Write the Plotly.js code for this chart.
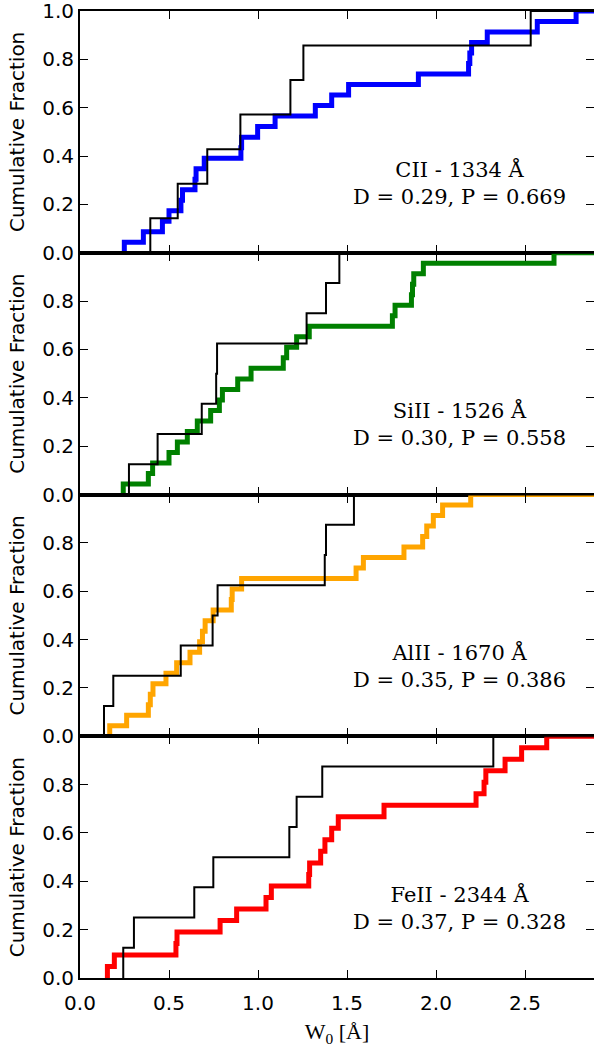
<!DOCTYPE html>
<html>
<head>
<meta charset="utf-8">
<script src="https://cdn.plot.ly/plotly-3.0.1.min.js"></script>
<style>html,body{margin:0;padding:0;background:#fff;}#chart{width:594px;height:1047px;}</style>
</head>
<body>
<div id="chart"></div>
<script>
// ---- data (equivalent widths W0 in Angstrom) ----
const ciiSample  = [0.249, 0.356, 0.463, 0.500, 0.567, 0.576, 0.646, 0.652, 0.698, 0.904, 0.908, 0.998, 1.096, 1.322, 1.414, 1.509, 1.901, 2.183, 2.190, 2.200, 2.288, 2.569, 2.787];
const ciiRef     = [0.395, 0.549, 0.715, 0.901, 1.182, 1.255, 2.532];
const siiiSample = [0.243, 0.384, 0.408, 0.500, 0.547, 0.603, 0.659, 0.734, 0.783, 0.800, 0.886, 0.961, 1.142, 1.161, 1.217, 1.288, 1.755, 1.770, 1.862, 1.868, 1.875, 1.929, 2.663];
const siiiRef    = [0.275, 0.436, 0.684, 0.765, 0.770, 1.273, 1.382, 1.457];
const aliiSample = [0.167, 0.262, 0.384, 0.395, 0.410, 0.483, 0.543, 0.618, 0.672, 0.688, 0.703, 0.748, 0.850, 0.855, 0.908, 1.551, 1.592, 1.820, 1.925, 1.948, 1.985, 2.037, 2.195];
const aliiRef    = [0.135, 0.187, 0.566, 0.745, 0.773, 1.375, 1.382, 1.539];
const feiiSample = [0.154, 0.193, 0.539, 0.545, 0.787, 0.880, 1.045, 1.075, 1.285, 1.290, 1.352, 1.376, 1.414, 1.451, 1.708, 2.225, 2.270, 2.280, 2.388, 2.481, 2.622];
const feiiRef    = [0.243, 0.303, 0.642, 0.749, 1.176, 1.217, 1.361, 2.322];

const ionLabels = ["CII - 1334 Å", "SiII - 1526 Å", "AlII - 1670 Å", "FeII - 2344 Å"];
const ksD = [0.29, 0.30, 0.35, 0.37];
const ksP = [0.669, 0.558, 0.386, 0.328];
const sampleColors = ["#0000ff", "#008000", "#ffa500", "#ff0000"];
const yTickVals = [0, 0.2, 0.4, 0.6, 0.8, 1.0];
const xTickVals = [0, 0.5, 1.0, 1.5, 2.0, 2.5];

const XMAX = 514 / 178;
const samples = [ciiSample, siiiSample, aliiSample, feiiSample];
const refs = [ciiRef, siiiRef, aliiRef, feiiRef];

function cdf(vals) {
  const s = vals.slice().sort((a, b) => a - b);
  const n = s.length;
  const x = [s[0]], y = [0];
  s.forEach((v, i) => { x.push(v); y.push((i + 1) / n); });
  x.push(XMAX + 0.5); y.push(1);
  return {x, y};
}

const traces = [];
const layout = {
  width: 594, height: 1047,
  margin: {l: 80, r: 0, t: 11, b: 69},
  paper_bgcolor: "#ffffff", plot_bgcolor: "#ffffff",
  showlegend: false,
  font: {family: "DejaVu Sans", size: 20, color: "#000"},
  annotations: []
};

for (let p = 0; p < 4; p++) {
  const sfx = p === 0 ? "" : String(p + 1);
  const xa = "x" + sfx, ya = "y" + sfx;
  const a = cdf(samples[p]);
  traces.push({x: a.x, y: a.y, xaxis: xa, yaxis: ya, type: "scatter", mode: "lines",
    line: {shape: "hv", color: sampleColors[p], width: 5}, hoverinfo: "skip"});
  const b = cdf(refs[p]);
  traces.push({x: b.x, y: b.y, xaxis: xa, yaxis: ya, type: "scatter", mode: "lines",
    line: {shape: "hv", color: "#000000", width: 2}, hoverinfo: "skip"});

  const top = 1 - p * 0.25, bot = 1 - (p + 1) * 0.25;
  layout["xaxis" + sfx] = {
    domain: [0, 1], anchor: ya, range: [0, XMAX],
    tickvals: xTickVals, ticktext: xTickVals.map(v => v.toFixed(1)),
    showticklabels: p === 3,
    ticks: "inside", ticklen: 8, tickwidth: 1, tickcolor: "#000",
    mirror: "allticks", showline: true, linewidth: 2, linecolor: "#000",
    showgrid: false, zeroline: false,
    tickfont: {family: "DejaVu Sans", size: 20, color: "#000"},
    ticklabeloverflow: "allow",
    ticklabelstandoff: 6
  };
  if (p === 3) {
    layout["xaxis" + sfx].title = {text: "W<sub>0</sub> [Å]", font: {family: "Liberation Serif", size: 22, color: "#000"}, standoff: 10};
  }
  const yv = p === 0 ? yTickVals : yTickVals.slice(0, 5);
  layout["yaxis" + sfx] = {
    domain: [bot, top], anchor: xa, range: [0, 1],
    tickvals: yv, ticktext: yv.map(v => v.toFixed(1)),
    ticks: "inside", ticklen: 8, tickwidth: 1, tickcolor: "#000",
    mirror: "allticks", showline: true, linewidth: 2, linecolor: "#000",
    showgrid: false, zeroline: false,
    tickfont: {family: "DejaVu Sans", size: 20, color: "#000"},
    ticklabeloverflow: "allow",
    title: {text: "Cumulative Fraction", font: {family: "DejaVu Sans", size: 20, color: "#000"}, standoff: 12}
  };
  layout.annotations.push({
    xref: xa, yref: ya, x: 2.13, y: 0.29, xanchor: "center", yanchor: "middle",
    showarrow: false, align: "center",
    text: ionLabels[p] + "<br>D = " + ksD[p].toFixed(2) + ", P = " + ksP[p].toFixed(3),
    font: {family: "DejaVu Serif", size: 21, color: "#000"}
  });
}

Plotly.newPlot("chart", traces, layout, {staticPlot: true, displayModeBar: false});
</script>
</body>
</html>
